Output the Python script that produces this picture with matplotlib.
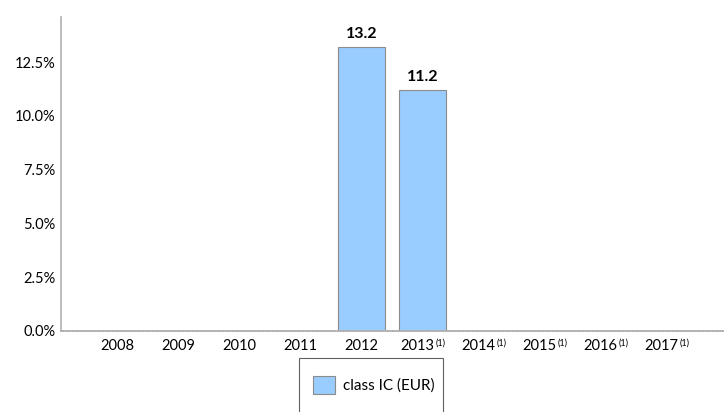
import matplotlib.pyplot as plt
import matplotlib.transforms as mtransforms
from matplotlib.patches import Rectangle
from matplotlib.ticker import FuncFormatter

# ── Data ────────────────────────────────────────────────
years = ["2008", "2009", "2010", "2011", "2012", "2013", "2014", "2015", "2016", "2017"]
footnoted = [False, False, False, False, False, True, True, True, True, True]
values = [None, None, None, None, 13.2, 11.2, None, None, None, None]
series_name = "class IC (EUR)"

plt.rcParams["font.family"] = ["Lato", "DejaVu Sans"]

W, H = 724, 412
fig = plt.figure(figsize=(W / 100, H / 100), dpi=100)
ax = fig.add_axes([61 / W, 1 - 331 / H, 663 / W, 314 / H])

xs = list(range(len(years)))
bar_x = [x for x, v in zip(xs, values) if v is not None]
bar_v = [v for v in values if v is not None]
ax.bar(bar_x, bar_v, width=0.77, color="#99ccff", edgecolor="#8c8c8c",
       linewidth=0.8, label=series_name, zorder=2)
for x, v in zip(bar_x, bar_v):
    ax.text(x, v + 0.3, f"{v:.1f}", ha="center", va="bottom",
            fontsize=11.5, fontweight="bold", color="black")

ax.set_xlim(-0.93, 9.94)
ax.set_ylim(0, 14.6)
ax.set_yticks([0, 2.5, 5, 7.5, 10, 12.5])
ax.yaxis.set_major_formatter(FuncFormatter(lambda v, p: f"{v:.1f}%"))

ax.set_xticks(xs)
ax.set_xticklabels(years, fontsize=10.5)
ax.tick_params(axis="y", labelsize=10.5, length=0, pad=4)
ax.tick_params(axis="x", length=0, pad=6)

# footnoted years: shift label left, then add a small raised "(1)"
shift = mtransforms.ScaledTranslation(-5 / 100, 0, fig.dpi_scale_trans)
for lbl, f in zip(ax.get_xticklabels(), footnoted):
    if f:
        lbl.set_transform(lbl.get_transform() + shift)

for s in ["top", "right"]:
    ax.spines[s].set_visible(False)
ax.spines["left"].set_color("#b0b0b0")
ax.spines["left"].set_linewidth(1.2)
ax.spines["bottom"].set_color("#b0b0b0")
ax.spines["bottom"].set_linewidth(1.2)
ax.spines["bottom"].set_linestyle((0, (1, 0.5)))

fig.canvas.draw()
renderer = fig.canvas.get_renderer()
for lbl, f in zip(ax.get_xticklabels(), footnoted):
    if f:
        bb = lbl.get_window_extent(renderer)
        fig.text((bb.x1 + 1) / W, (bb.y1 + 1) / H, "(1)", fontsize=6.5,
                 ha="left", va="top")

# legend box runs past the bottom edge as in the original
fig.patches.append(Rectangle((299 / W, 1 - 418 / H), 144 / W, 60 / H,
                             transform=fig.transFigure, fill=False,
                             edgecolor="#606060", linewidth=0.8))
fig.legend(loc="upper left", bbox_to_anchor=(313 / W, 1 - 376 / H),
           fontsize=11, frameon=False, borderpad=0, borderaxespad=0,
           handlelength=1.44, handleheight=1.44, handletextpad=0.5)

fig.savefig("out.png", dpi=100)
